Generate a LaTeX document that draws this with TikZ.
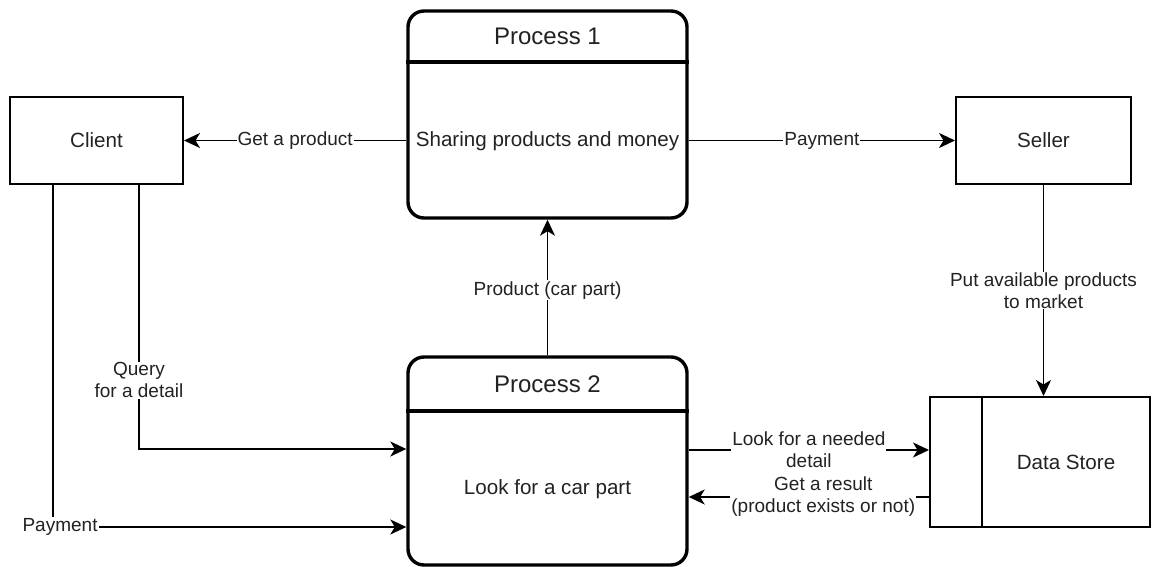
\documentclass[tikz,border=0pt]{standalone}
\usepackage{fontspec}
\setmainfont{Liberation Sans}
\usetikzlibrary{arrows.meta}
\definecolor{txt}{HTML}{222222}
\begin{document}
\begin{tikzpicture}[x=1pt,y=-1pt,
  lbl/.style={font=\fontsize{19}{22}\selectfont, fill=white, inner sep=1pt, align=center, text=txt},
  bodytext/.style={font=\fontsize{20.6}{24}\selectfont, text=txt, align=center},
  titletext/.style={font=\fontsize{24}{28}\selectfont, text=txt},
  conn/.style={line width=1.7pt, -{Stealth[length=16pt,width=15pt,inset=4.5pt]}},
  box/.style={draw, line width=2pt, inner sep=0pt, font=\fontsize{20.6}{24}\selectfont, text=txt},
  proc/.style={draw, line width=3.4pt, rounded corners=16pt, inner sep=0pt},
  hdr/.style={line width=3.4pt}]
\useasboundingbox (0,0) rectangle (1153,567);
% external entities
\node[box, minimum width=173pt, minimum height=87pt] (client) at (96.5,140.5) {Client};
\node[box, minimum width=175pt, minimum height=87pt] (seller) at (1043.5,140.5) {Seller};
% process 1
\node[proc, minimum width=279pt, minimum height=207pt] (p1) at (547.5,114.5) {};
\coordinate (h1) at (0,62);
\draw[hdr] (p1.west |- h1) -- (p1.east |- h1);
\node[titletext] (p1t) at (547.5,36) {Process 1};
\node[bodytext] (p1b) at (547.5,141) {Sharing products and money};
% process 2
\node[proc, minimum width=279pt, minimum height=208pt] (p2) at (547.5,461) {};
\coordinate (h2) at (0,411);
\draw[hdr] (p2.west |- h2) -- (p2.east |- h2);
\node[titletext] (p2t) at (547.5,384) {Process 2};
\node[bodytext] (p2b) at (547.5,489) {Look for a car part};
% data store
\node[box, minimum width=220pt, minimum height=130pt] (ds) at (1040,462) {};
\draw[line width=2pt] ([xshift=53pt]ds.north west) -- ([xshift=53pt]ds.south west);
\node[bodytext] (dst) at (1066,462) {Data Store};
% connectors
\coordinate (qy) at (0,449);
\coordinate (py) at (0,527);
\coordinate (ly) at (0,450);
\coordinate (ry) at (0,497);
\draw[conn] (p1.west |- client.east) -- (client.east) node[lbl, midway] {Get a product};
\draw[conn] (p1.east |- seller.west) -- (seller.west) node[lbl, midway] {Payment};
\draw[conn] (p2.north) -- (p1.south) node[lbl, pos=0.48] {Product (car part)};
\draw[conn] (seller.south) -- (ds.north -| seller.south) node[lbl, midway] {Put available products\\to market};
\draw[conn] ([xshift=42.5pt]client.south) |- (p2.west |- qy) node[lbl, pos=0.37] {Query\\for a detail};
\draw[conn] ([xshift=-43.5pt]client.south) |- (p2.west |- py) node[lbl, pos=0.51] {Payment};
\draw[conn] (p2.east |- ly) -- (ds.west |- ly) node[lbl, midway] {Look for a needed\\detail};
\draw[conn] (ds.west |- ry) -- (p2.east |- ry) node[lbl, pos=0.44] {Get a result\\(product exists or not)};
\end{tikzpicture}
\end{document}
